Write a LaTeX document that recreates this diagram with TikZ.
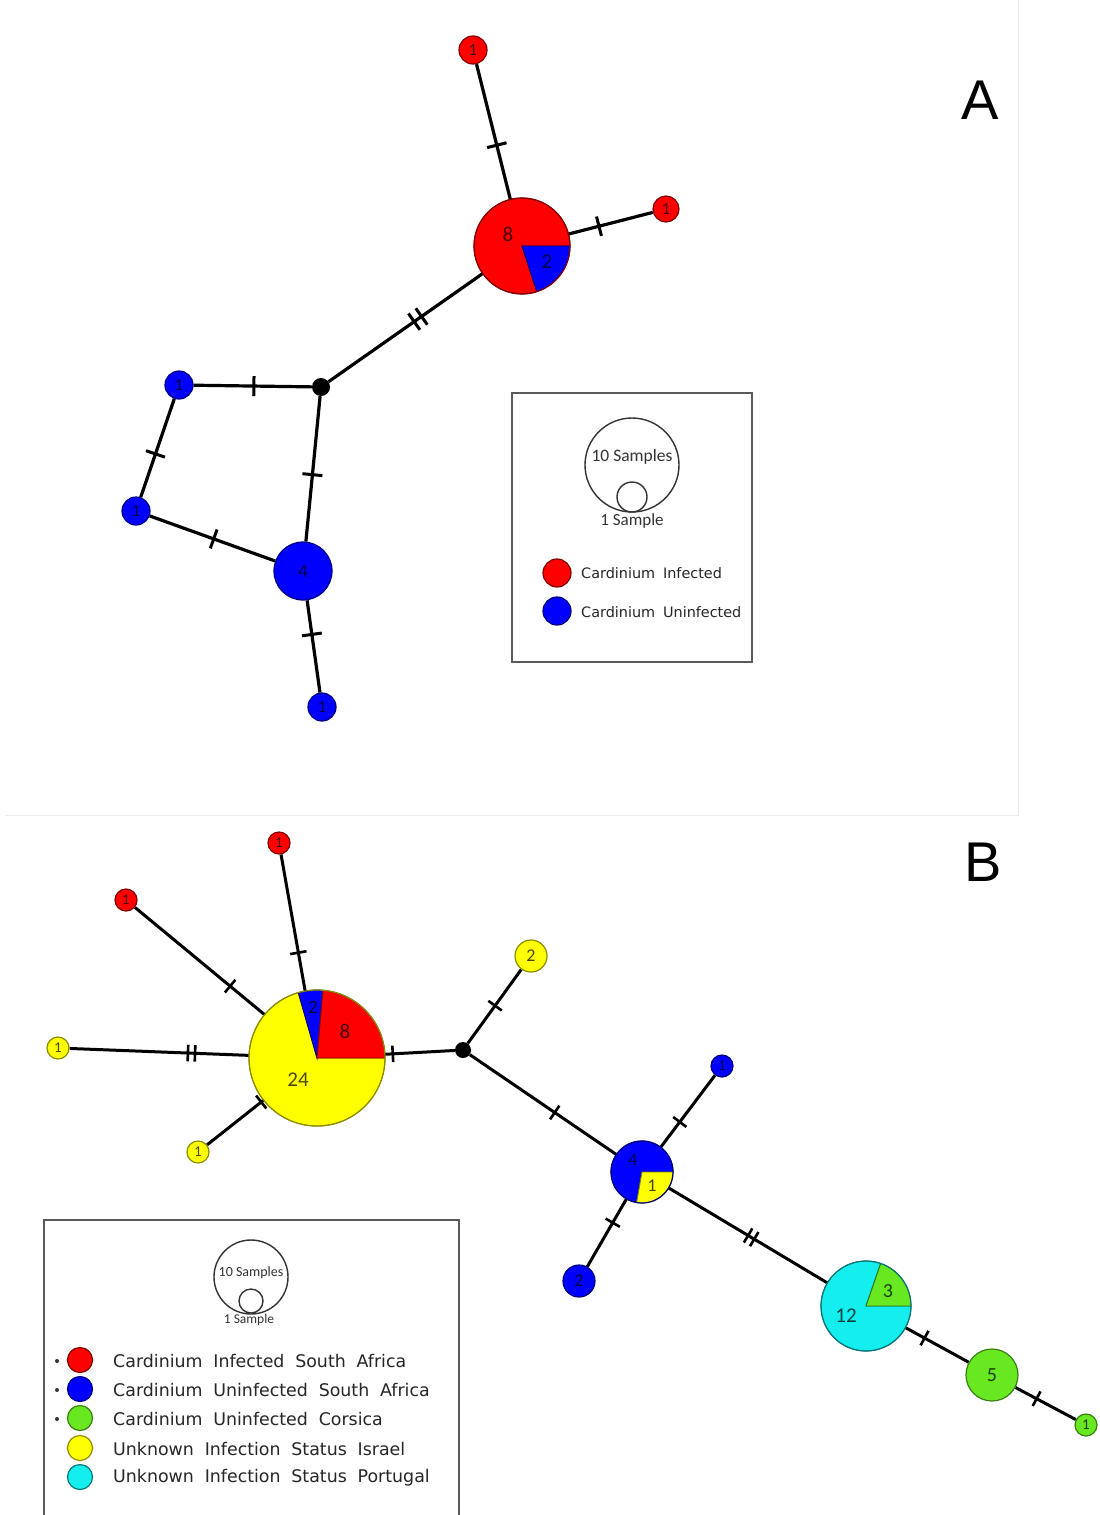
\documentclass[tikz,border=0pt]{standalone}
\usepackage{fontspec}
\setmainfont{DejaVu Sans}
\newfontfamily\numfont{Carlito}
\newfontfamily\capfont{Liberation Sans}

\definecolor{hred}{RGB}{255,0,0}
\definecolor{hblue}{RGB}{0,0,255}
\definecolor{hyellow}{RGB}{255,255,0}
\definecolor{hgreen}{RGB}{104,232,32}
\definecolor{hcyan}{RGB}{20,238,238}
\definecolor{paneledge}{RGB}{236,236,236}
\definecolor{boxedge}{RGB}{90,90,90}

\pgfdeclarelayer{bg}
\pgfdeclarelayer{edges}
\pgfsetlayers{bg,edges,main}

% one mutation mark, and two of them
\newcommand\tk{\rule{3pt}{20pt}}
\newcommand\tkk{\rule{3pt}{20pt}\hspace{6pt}\rule{3pt}{20pt}}
\newcommand\tks{\rule{2.6pt}{16.5pt}}
\newcommand\tkks{\rule{2.6pt}{16.5pt}\hspace{4.5pt}\rule{2.6pt}{16.5pt}}

% wide gaps between legend words
\newcommand\legfontA{\fontsize{14.4}{16}\selectfont\spaceskip=0.55em\relax}
\newcommand\legfontB{\fontsize{17.4}{19}\selectfont\spaceskip=0.62em\relax}

% sector of a pie node: node, radius, start, end, colour
\newcommand\hapslice[5]{%
  \filldraw[fill=#5, draw=#5!50!black, line width=0.9pt]
    (#1.center) -- ++(#3:#2) arc[start angle=#3, end angle=#4, radius=#2] -- cycle;}
% outline of a pie node: node, radius, colour
\newcommand\hapring[3]{%
  \draw[draw=#3, line width=1.2pt] (#1.center) circle[radius=#2];}

\tikzset{
  hap/.style={circle, inner sep=0pt, minimum size=#1, line width=1.2pt,
    text opacity=0.72},
  redhap/.style={hap=#1, fill=hred, draw=hred!50!black},
  bluehap/.style={hap=#1, fill=hblue, draw=hblue!50!black},
  yellowhap/.style={hap=#1, fill=hyellow, draw=hyellow!55!black},
  greenhap/.style={hap=#1, fill=hgreen, draw=hgreen!55!black},
  pie/.style={circle, inner sep=0pt, minimum size=#1},
  median/.style={circle, inner sep=0pt, minimum size=#1, fill=black},
  link/.style={line width=3.2pt, black},
  linkB/.style={line width=3pt, black},
  tick/.style={sloped, inner sep=0pt, pos=#1},
  num/.style={font=\numfont\fontsize{#1}{#1}\selectfont},
  pielabel/.style={num=#1, text opacity=0.72, inner sep=0pt},
  keyring/.style={circle, draw=black!80, line width=1.4pt, inner sep=0pt, minimum size=#1},
  legtextA/.style={anchor=west, inner sep=0pt, text=black!85, font=\legfontA},
  legtextB/.style={anchor=west, inner sep=0pt, text=black!85, font=\legfontB},
  panellabel/.style={font=\capfont\fontsize{56}{56}\selectfont, inner sep=0pt},
}

\begin{document}
\begin{tikzpicture}[x=1pt, y=1pt]
\useasboundingbox (0,0) rectangle (1100,-1515);
\begin{pgfonlayer}{bg}
  \fill[white] (0,0) rectangle (1100,-1515);
  \draw[paneledge, line width=1pt] (1018,0) -- (1018,-815) -- (5,-815);
\end{pgfonlayer}

% ---------------- network A ----------------
\node[panellabel] (labA) at (980,-100) {A};

\node[redhap=28pt, num=17] (a1) at (473,-50) {1};
\node[redhap=26pt, num=17] (a2) at (666,-209) {1};
\node[pie=96pt] (pA) at (522,-246) {};
\node[median=18pt] (hA) at (321,-387) {};
\node[bluehap=28pt, num=17] (a3) at (179,-385) {1};
\node[bluehap=28pt, num=17] (a4) at (136,-511) {1};
\node[bluehap=58pt, num=19] (a5) at (303,-571) {4};
\node[bluehap=28pt, num=17] (a6) at (322,-707) {1};

\hapslice{pA}{48pt}{0}{288}{hred}
\hapslice{pA}{48pt}{0}{-72}{hblue}
\hapring{pA}{48pt}{hred!50!black}
\node[pielabel=21] (pA8) at (508,-234) {8};
\node[pielabel=21] (pA2) at (547,-262) {2};

\begin{pgfonlayer}{edges}
  \draw[link] (a1) -- node[tick=0.60]{\tk} (pA);
  \draw[link] (pA) -- node[tick=0.36]{\tk} (a2);
  \draw[link] (pA) -- node[tick=0.42]{\tkk} (hA);
  \draw[link] (hA) -- node[tick=0.49]{\tk} (a3);
  \draw[link] (a3) -- node[tick=0.56]{\tk} (a4);
  \draw[link] (a4) -- node[tick=0.51]{\tk} (a5);
  \draw[link] (hA) -- node[tick=0.54]{\tk} (a5);
  \draw[link] (a5) -- node[tick=0.37]{\tk} (a6);
\end{pgfonlayer}

% legend A
\draw[boxedge, line width=2pt] (512,-393) rectangle (752,-662);
\node[keyring=94pt] (kA10) at (632,-465) {};
\node[keyring=30pt] (kA1) at (632,-497) {};
\node[num=17.5, inner sep=0pt, text=black!80] (kA10t) at (632,-457) {10 Samples};
\node[num=17, inner sep=0pt, text=black!80] (kA1t) at (632,-521) {1 Sample};
\node[redhap=28pt] (lA1) at (557,-573) {};
\node[legtextA] (lA1t) at (581,-573) {Cardinium Infected};
\node[bluehap=28pt] (lA2) at (557,-611) {};
\node[legtextA] (lA2t) at (581,-612) {Cardinium Uninfected};

% ---------------- network B ----------------
\node[panellabel] (labB) at (983,-862) {B};

\node[redhap=22pt, num=15] (r1) at (279,-843) {1};
\node[redhap=22pt, num=15] (r2) at (126,-900) {1};
\node[yellowhap=22pt, num=15] (y1) at (58,-1048) {1};
\node[yellowhap=22pt, num=15] (y2) at (198,-1152) {1};
\node[pie=136pt] (pB) at (317,-1058) {};
\node[median=16pt] (hB) at (463,-1050) {};
\node[yellowhap=32pt, num=18] (y3) at (531,-956) {2};
\node[bluehap=22pt, num=15] (b1) at (722,-1066) {1};
\node[pie=62pt] (pQ) at (642,-1172) {};
\node[bluehap=32pt, num=18] (b2) at (579,-1281) {2};
\node[pie=90pt] (pS) at (866,-1306) {};
\node[greenhap=52pt, num=20] (g5) at (992,-1375) {5};
\node[greenhap=22pt, num=15] (g1) at (1086,-1425) {1};

\hapslice{pB}{68pt}{106}{360}{hyellow}
\hapslice{pB}{68pt}{85}{106}{hblue}
\hapslice{pB}{68pt}{0}{85}{hred}
\hapring{pB}{68pt}{hyellow!55!black}
\node[pielabel=21] (pB8) at (345,-1031) {8};
\node[pielabel=19] (pB2) at (313,-1007) {2};
\node[pielabel=21] (pB24) at (298,-1080) {24};

\hapslice{pQ}{31pt}{0}{260}{hblue}
\hapslice{pQ}{31pt}{0}{-100}{hyellow}
\hapring{pQ}{31pt}{hblue!50!black}
\node[pielabel=18] (pQ4) at (633,-1160) {4};
\node[pielabel=18] (pQ1) at (652,-1186) {1};

\hapslice{pS}{45pt}{71}{360}{hcyan}
\hapslice{pS}{45pt}{0}{71}{hgreen}
\hapring{pS}{45pt}{hcyan!50!black}
\node[pielabel=20] (pS3) at (888,-1291) {3};
\node[pielabel=21] (pS12) at (846,-1316) {12};

\begin{pgfonlayer}{edges}
  \draw[linkB] (r1) -- node[tick=0.72]{\tks} (pB);
  \draw[linkB] (r2) -- node[tick=0.735]{\tks} (pB);
  \draw[linkB] (y1) -- node[tick=0.68]{\tkks} (pB);
  \draw[linkB] (y2) -- node[tick=0.96]{\tks} (pB);
  \draw[linkB] (pB) -- node[tick=0.11]{\tks} (hB);
  \draw[linkB] (hB) -- node[tick=0.51]{\tks} (y3);
  \draw[linkB] (hB) -- node[tick=0.58]{\tks} (pQ);
  \draw[linkB] (pQ) -- node[tick=0.35]{\tks} (b1);
  \draw[linkB] (pQ) -- node[tick=0.35]{\tks} (b2);
  \draw[linkB] (pQ) -- node[tick=0.52]{\tkks} (pS);
  \draw[linkB] (pS) -- node[tick=0.30]{\tks} (g5);
  \draw[linkB] (g5) -- node[tick=0.35]{\tks} (g1);
\end{pgfonlayer}

% legend B
\draw[boxedge, line width=2pt] (44,-1516) -- (44,-1220) -- (459,-1220) -- (459,-1516);
\node[keyring=74pt] (kB10) at (251,-1277) {};
\node[keyring=24pt] (kB1) at (251,-1301) {};
\node[num=14, inner sep=0pt, text=black!80] (kB10t) at (251,-1273) {10 Samples};
\node[num=13.5, inner sep=0pt, text=black!80] (kB1t) at (249,-1320) {1 Sample};

\node[redhap=25pt] (lB1) at (80,-1360) {};
\node[bluehap=25pt] (lB2) at (80,-1389) {};
\node[greenhap=25pt] (lB3) at (80,-1418) {};
\node[yellowhap=25pt] (lB4) at (80,-1448) {};
\node[hap=25pt, fill=hcyan, draw=hcyan!50!black] (lB5) at (80,-1477) {};
\node[circle, fill=black!80, inner sep=0pt, minimum size=4pt] (dB1) at (57,-1361) {};
\node[circle, fill=black!80, inner sep=0pt, minimum size=4pt] (dB2) at (57,-1390) {};
\node[circle, fill=black!80, inner sep=0pt, minimum size=4pt] (dB3) at (57,-1419) {};
\node[legtextB] (lB1t) at (113,-1361) {Cardinium Infected South Africa};
\node[legtextB] (lB2t) at (113,-1390) {Cardinium Uninfected South Africa};
\node[legtextB] (lB3t) at (113,-1419) {Cardinium Uninfected Corsica};
\node[legtextB] (lB4t) at (113,-1449) {Unknown Infection Status Israel};
\node[legtextB] (lB5t) at (113,-1478) {Unknown Infection Status Portugal};
\end{tikzpicture}
\end{document}
